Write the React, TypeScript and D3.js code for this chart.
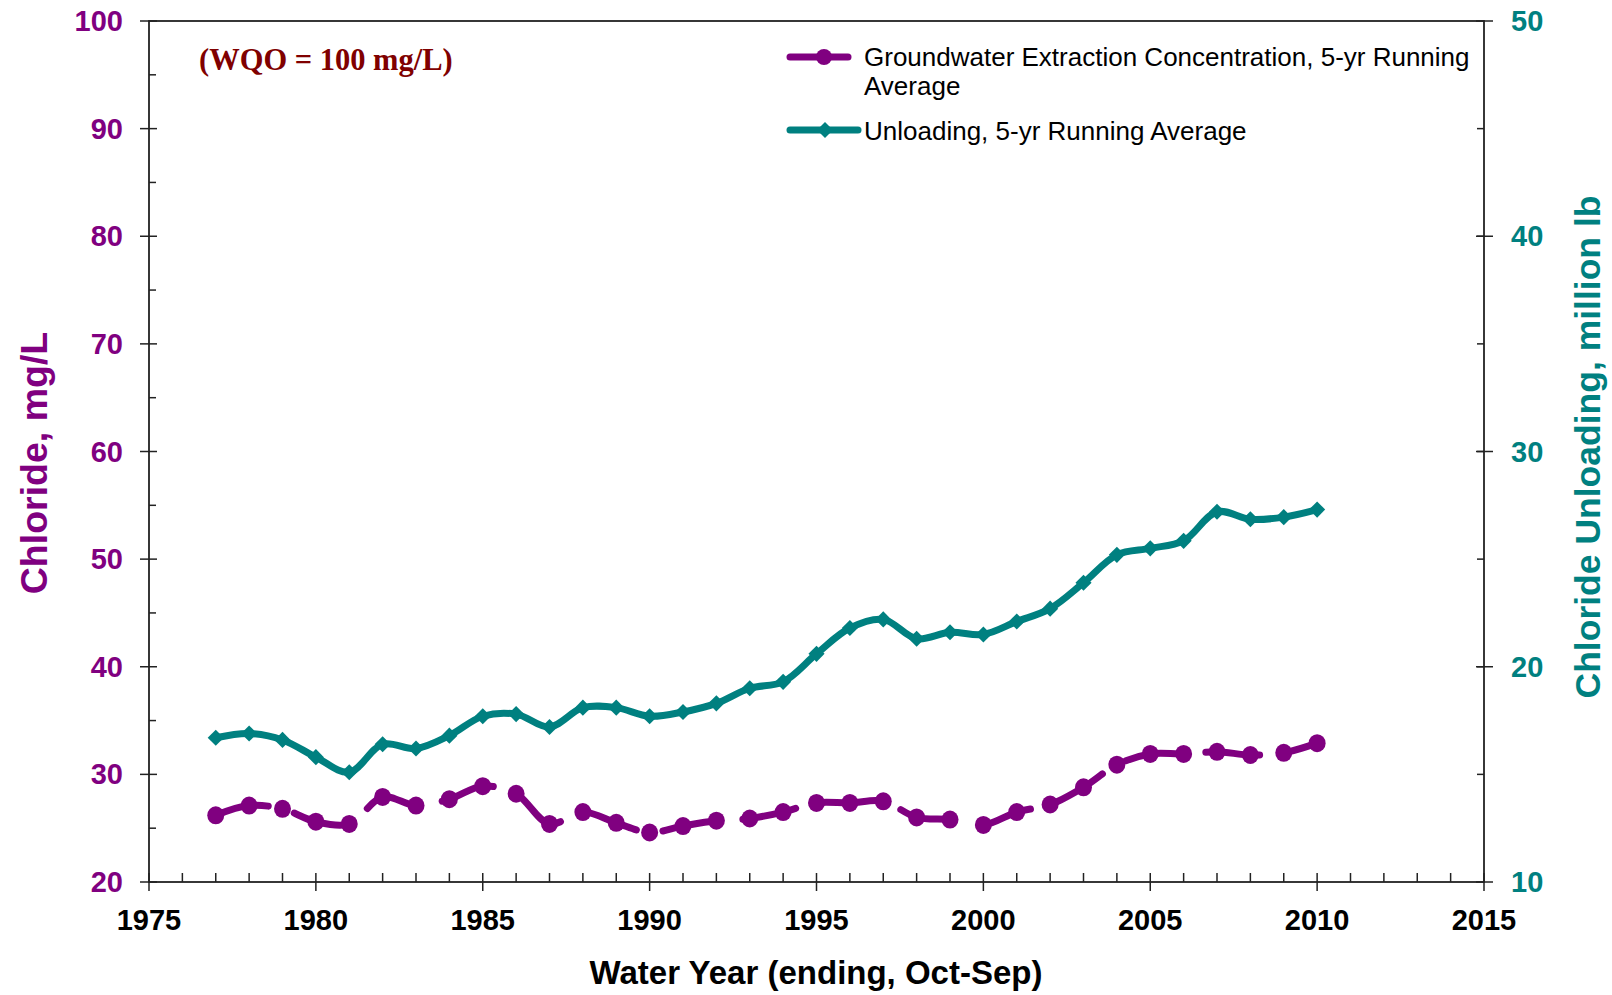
import React, { useEffect, useRef } from "react";
import * as d3 from "d3";

const years = [
	1977, 1978, 1979, 1980, 1981, 1982, 1983, 1984, 1985, 1986, 1987, 1988,
	1989, 1990, 1991, 1992, 1993, 1994, 1995, 1996, 1997, 1998, 1999, 2000,
	2001, 2002, 2003, 2004, 2005, 2006, 2007, 2008, 2009, 2010,
];

// mg/L, left axis
const chloride = [
	26.2, 27.1, 26.8, 25.6, 25.4, 27.9, 27.1, 27.7, 28.9, 28.2, 25.4, 26.5,
	25.5, 24.6, 25.2, 25.7, 25.9, 26.5, 27.35, 27.35, 27.5, 26.0, 25.8, 25.3,
	26.5, 27.2, 28.8, 30.9, 31.9, 31.9, 32.1, 31.8, 32.0, 32.9,
];

// million lb, right axis
const unloading = [
	16.7, 16.9, 16.6, 15.8, 15.1, 16.4, 16.2, 16.8, 17.7, 17.8, 17.2, 18.1,
	18.1, 17.7, 17.9, 18.3, 19.0, 19.3, 20.6, 21.8, 22.2, 21.3, 21.6, 21.5,
	22.1, 22.7, 23.9, 25.2, 25.5, 25.85, 27.2, 26.85, 26.95, 27.3,
];

const xTicks = [1975, 1980, 1985, 1990, 1995, 2000, 2005, 2010, 2015];
const leftTicks = [20, 30, 40, 50, 60, 70, 80, 90, 100];
const rightTicks = [10, 20, 30, 40, 50];

const PURPLE = "#800080";
const TEAL = "#008080";
const FONT = "'Liberation Sans', Arial, sans-serif";

const App: React.FC = () => {
	const svgRef = useRef<SVGSVGElement | null>(null);
	const width = 1612;
	const height = 995;

	useEffect(() => {
		const svg = d3.select(svgRef.current);
		svg.selectAll("*").remove();

		const left = 149;
		const right = 1484;
		const top = 21;
		const bottom = 882;

		const x = d3.scaleLinear().domain([1975, 2015]).range([left, right]);
		const yL = d3.scaleLinear().domain([20, 100]).range([bottom, top]);
		const yR = d3.scaleLinear().domain([10, 50]).range([bottom, top]);

		// frame
		svg.append("rect")
			.attr("x", left)
			.attr("y", top)
			.attr("width", right - left)
			.attr("height", bottom - top)
			.attr("fill", "none")
			.attr("stroke", "#222")
			.attr("stroke-width", 1.8);

		// x ticks: minor every year inside, major every 5 crossing
		const minorYears = d3.range(1975, 2016);
		svg.append("g")
			.selectAll("line")
			.data(minorYears)
			.enter()
			.append("line")
			.attr("x1", (d) => x(d))
			.attr("x2", (d) => x(d))
			.attr("y1", bottom - 9)
			.attr("y2", (d) => (xTicks.includes(d) ? bottom + 9 : bottom))
			.attr("stroke", "#222")
			.attr("stroke-width", 1.5);

		svg.append("g")
			.selectAll("text")
			.data(xTicks)
			.enter()
			.append("text")
			.attr("x", (d) => x(d))
			.attr("y", 930)
			.attr("text-anchor", "middle")
			.attr("font-family", FONT)
			.attr("font-weight", "bold")
			.attr("font-size", 29)
			.attr("fill", "#000")
			.text((d) => d);

		// left ticks
		const leftMinor = d3.range(25, 100, 10);
		svg.append("g")
			.selectAll("line")
			.data(leftTicks)
			.enter()
			.append("line")
			.attr("x1", left - 9)
			.attr("x2", left + 8)
			.attr("y1", (d) => yL(d))
			.attr("y2", (d) => yL(d))
			.attr("stroke", "#222")
			.attr("stroke-width", 1.5);
		svg.append("g")
			.selectAll("line")
			.data(leftMinor)
			.enter()
			.append("line")
			.attr("x1", left)
			.attr("x2", left + 7)
			.attr("y1", (d) => yL(d))
			.attr("y2", (d) => yL(d))
			.attr("stroke", "#222")
			.attr("stroke-width", 1.5);
		svg.append("g")
			.selectAll("text")
			.data(leftTicks)
			.enter()
			.append("text")
			.attr("x", 123)
			.attr("y", (d) => yL(d) + 10)
			.attr("text-anchor", "end")
			.attr("font-family", FONT)
			.attr("font-weight", "bold")
			.attr("font-size", 29)
			.attr("fill", PURPLE)
			.text((d) => d);

		// right ticks
		const rightMinor = d3.range(15, 50, 5);
		svg.append("g")
			.selectAll("line")
			.data(rightTicks)
			.enter()
			.append("line")
			.attr("x1", right - 8)
			.attr("x2", right + 9)
			.attr("y1", (d) => yR(d))
			.attr("y2", (d) => yR(d))
			.attr("stroke", "#222")
			.attr("stroke-width", 1.5);
		svg.append("g")
			.selectAll("line")
			.data(rightMinor)
			.enter()
			.append("line")
			.attr("x1", right - 7)
			.attr("x2", right)
			.attr("y1", (d) => yR(d))
			.attr("y2", (d) => yR(d))
			.attr("stroke", "#222")
			.attr("stroke-width", 1.5);
		svg.append("g")
			.selectAll("text")
			.data(rightTicks)
			.enter()
			.append("text")
			.attr("x", 1511)
			.attr("y", (d) => yR(d) + 10)
			.attr("text-anchor", "start")
			.attr("font-family", FONT)
			.attr("font-weight", "bold")
			.attr("font-size", 29)
			.attr("fill", TEAL)
			.text((d) => d);

		// axis titles
		svg.append("text")
			.attr("transform", "translate(47,463) rotate(-90)")
			.attr("text-anchor", "middle")
			.attr("font-family", FONT)
			.attr("font-weight", "bold")
			.attr("font-size", 37.5)
			.attr("fill", PURPLE)
			.text("Chloride, mg/L");

		svg.append("text")
			.attr("transform", "translate(1600,447) rotate(-90)")
			.attr("text-anchor", "middle")
			.attr("font-family", FONT)
			.attr("font-weight", "bold")
			.attr("font-size", 35.5)
			.attr("fill", TEAL)
			.text("Chloride Unloading, million lb");

		svg.append("text")
			.attr("x", 816)
			.attr("y", 984)
			.attr("text-anchor", "middle")
			.attr("font-family", FONT)
			.attr("font-weight", "bold")
			.attr("font-size", 33)
			.attr("fill", "#000")
			.text("Water Year (ending, Oct-Sep)");

		// WQO note
		svg.append("text")
			.attr("x", 199)
			.attr("y", 70)
			.attr("font-family", "'Liberation Serif', 'Times New Roman', serif")
			.attr("font-weight", "bold")
			.attr("font-size", 30.5)
			.attr("fill", "#800000")
			.text("(WQO = 100 mg/L)");

		const curve = d3.curveCatmullRom.alpha(0.5);

		// unloading line
		const teal = years.map((yr, i) => [yr, unloading[i]] as [number, number]);
		svg.append("path")
			.datum(teal)
			.attr("fill", "none")
			.attr("stroke", TEAL)
			.attr("stroke-width", 7)
			.attr("stroke-linejoin", "round")
			.attr(
				"d",
				d3
					.line<[number, number]>()
					.x((d) => x(d[0]))
					.y((d) => yR(d[1]))
					.curve(curve)
			);
		const diamond = d3.symbol().type(d3.symbolSquare).size(130);
		svg.append("g")
			.selectAll("path")
			.data(teal)
			.enter()
			.append("path")
			.attr("d", diamond() as string)
			.attr(
				"transform",
				(d) => `translate(${x(d[0])},${yR(d[1])}) rotate(45)`
			)
			.attr("fill", TEAL);

		// chloride concentration line
		const purple = years.map((yr, i) => [yr, chloride[i]] as [number, number]);
		svg.append("path")
			.datum(purple)
			.attr("fill", "none")
			.attr("stroke", PURPLE)
			.attr("stroke-width", 7)
			.attr("stroke-linecap", "round")
			.attr("stroke-dasharray", "54 27")
			.attr(
				"d",
				d3
					.line<[number, number]>()
					.x((d) => x(d[0]))
					.y((d) => yL(d[1]))
					.curve(curve)
			);
		svg.append("g")
			.selectAll("ellipse")
			.data(purple)
			.enter()
			.append("ellipse")
			.attr("cx", (d) => x(d[0]))
			.attr("cy", (d) => yL(d[1]))
			.attr("rx", 8.5)
			.attr("ry", 9)
			.attr("fill", PURPLE);

		// legend
		const legend = svg.append("g").attr("font-family", FONT).attr("font-size", 26);
		legend.append("line")
			.attr("x1", 790)
			.attr("x2", 848)
			.attr("y1", 57)
			.attr("y2", 57)
			.attr("stroke", PURPLE)
			.attr("stroke-width", 7)
			.attr("stroke-linecap", "round");
		legend.append("circle")
			.attr("cx", 824)
			.attr("cy", 57)
			.attr("r", 8)
			.attr("fill", PURPLE);
		legend.append("text")
			.attr("x", 864)
			.attr("y", 66)
			.attr("fill", "#000")
			.text("Groundwater Extraction Concentration, 5-yr Running");
		legend.append("text")
			.attr("x", 864)
			.attr("y", 95)
			.attr("fill", "#000")
			.text("Average");
		legend.append("line")
			.attr("x1", 790)
			.attr("x2", 858)
			.attr("y1", 130)
			.attr("y2", 130)
			.attr("stroke", TEAL)
			.attr("stroke-width", 7)
			.attr("stroke-linecap", "round");
		legend.append("path")
			.attr("d", diamond() as string)
			.attr("transform", "translate(825,130) rotate(45)")
			.attr("fill", TEAL);
		legend.append("text")
			.attr("x", 864)
			.attr("y", 140)
			.attr("fill", "#000")
			.text("Unloading, 5-yr Running Average");
	}, []);

	return (
		<svg
			ref={svgRef}
			width={width}
			height={height}
			style={{ position: "absolute", left: 0, top: 0, background: "#fff" }}
		></svg>
	);
};

export default App;
